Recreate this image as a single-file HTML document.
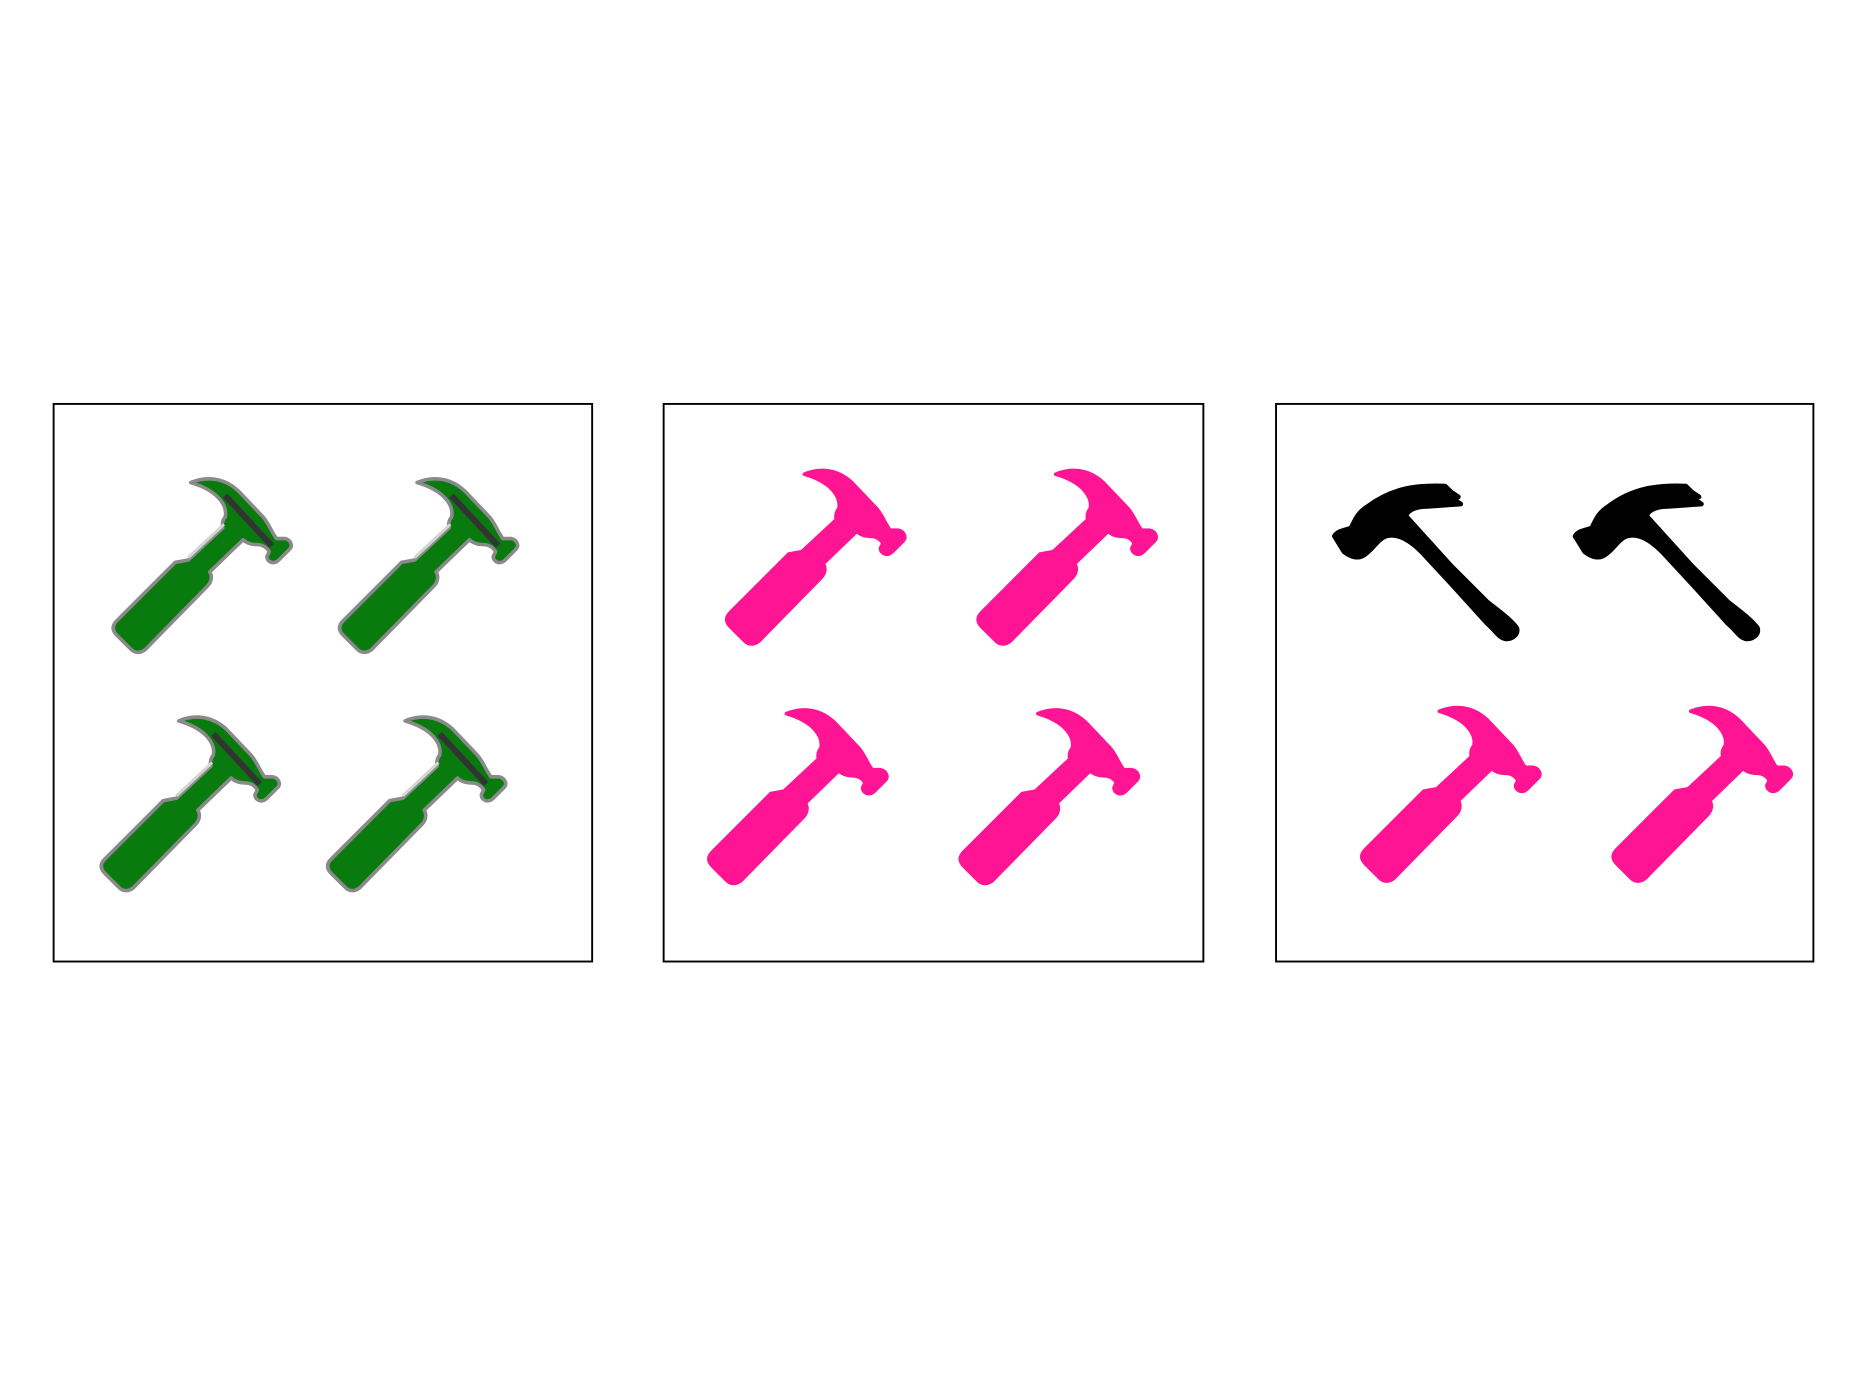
<!DOCTYPE html>
<html><head><meta charset="utf-8"><title>Hammer markers</title>
<style>html,body{margin:0;padding:0;background:#fff}svg{display:block}</style></head>
<body>
<svg id="chart" width="1867" height="1400" viewBox="0 0 1567 1175" xmlns="http://www.w3.org/2000/svg">
<defs>
<path id="hammerPink" d="M68,5 C80,0 95,0 108,12 L128,33 C133,38 135,45 140,52 L147,52 C152,53 154,58 151,61 L142,70 C138,74 132,72 132,67 L134,63 C131,58 127,57 122,57 C118,57 114,55 112,53 L84,80 C86,83 86,88 82,92 L32,143 C28,148 22,149 18,145 L6,133 C2,129 2,125 6,121 L55,72 L66,70 L95,43 C94,40 95,36 97,34 C99,25 92,12 68,5 Z"/>
<path id="hammerBlack" d="M2,45 C5,40 12,40 16,38 C20,30 22,25 30,20 C50,5 70,2 95,3 L100,8 L106,12 L102,14 L108,18 L80,20 C72,20 64,22 62,28 L100,70 L115,85 L130,100 C140,108 150,115 155,122 C157,128 150,132 145,131 C140,130 138,125 130,118 L100,85 L75,58 C65,48 55,42 45,45 C38,48 35,55 28,60 C22,65 15,62 10,58 Z"/>
</defs>
<g id="panels"></g>
</svg>
<script>
// panel frames [x0, y0, x1, y1] in figure units
const panelNames = ['panel-green', 'panel-pink', 'panel-mixed'];
const panelX0 = [45, 557, 1071];
const panelX1 = [497, 1010, 1522];
const panelY0 = [339, 339, 339];
const panelY1 = [807, 807, 807];
// marker data: top-left of each hammer marker
const greenX = [92, 282, 82, 272];
const greenY = [400, 400, 600, 600];
const pinkX = [607, 818, 592, 803];
const pinkY = [393, 393, 594, 594];
const blackX = [1118, 1320];
const blackY = [405, 405];
const pink3X = [1140, 1351];
const pink3Y = [592, 592];

const NS = 'http://www.w3.org/2000/svg';
const root = document.getElementById('panels');
for (let i = 0; i < panelNames.length; i++) {
  const r = document.createElementNS(NS, 'rect');
  r.setAttribute('x', panelX0[i]); r.setAttribute('y', panelY0[i]);
  r.setAttribute('width', panelX1[i] - panelX0[i]); r.setAttribute('height', panelY1[i] - panelY0[i]);
  r.setAttribute('fill', 'none'); r.setAttribute('stroke', '#000'); r.setAttribute('stroke-width', '1.6');
  
  
  root.appendChild(r);
}
function useMark(id, x, y, fill, extra) {
  const u = document.createElementNS(NS, 'use');
  u.setAttribute('href', '#' + id);
  u.setAttribute('transform', 'translate(' + x + ',' + y + ')');
  u.setAttribute('fill', fill);
  u.setAttribute('stroke-linejoin', 'round');
  if (extra) { for (const k in extra) u.setAttribute(k, extra[k]); }
  return u;
}
for (let i = 0; i < greenX.length; i++) {
  const g = document.createElementNS(NS, 'g');
  
  
  g.appendChild(useMark('hammerPink', greenX[i], greenY[i], '#087a0e', {stroke: '#8a8a8a', 'stroke-width': '3'}));
  const s = document.createElementNS(NS, 'path');
  s.setAttribute('d', 'M' + (greenX[i] + 97) + ',' + (greenY[i] + 16) + ' L' + (greenX[i] + 136) + ',' + (greenY[i] + 58));
  s.setAttribute('stroke', '#333'); s.setAttribute('stroke-width', '5'); s.setAttribute('fill', 'none');
  g.appendChild(s);
  const h = document.createElementNS(NS, 'path');
  h.setAttribute('d', 'M' + (greenX[i] + 66) + ',' + (greenY[i] + 68) + ' L' + (greenX[i] + 96) + ',' + (greenY[i] + 40));
  h.setAttribute('stroke', '#cfd8cf'); h.setAttribute('stroke-width', '2.5'); h.setAttribute('fill', 'none');
  g.appendChild(h);
  root.appendChild(g);
}
for (let i = 0; i < pinkX.length; i++) {
  const m = useMark('hammerPink', pinkX[i], pinkY[i], '#ff1493', {stroke: '#ff1493', 'stroke-width': '3'});
  
  
  root.appendChild(m);
}
for (let i = 0; i < blackX.length; i++) {
  const m = useMark('hammerBlack', blackX[i], blackY[i], '#000', {stroke: '#000', 'stroke-width': '4'});
  
  
  root.appendChild(m);
}
for (let i = 0; i < pink3X.length; i++) {
  const m = useMark('hammerPink', pink3X[i], pink3Y[i], '#ff1493', {stroke: '#ff1493', 'stroke-width': '3'});
  
  
  root.appendChild(m);
}
</script>
</body></html>
